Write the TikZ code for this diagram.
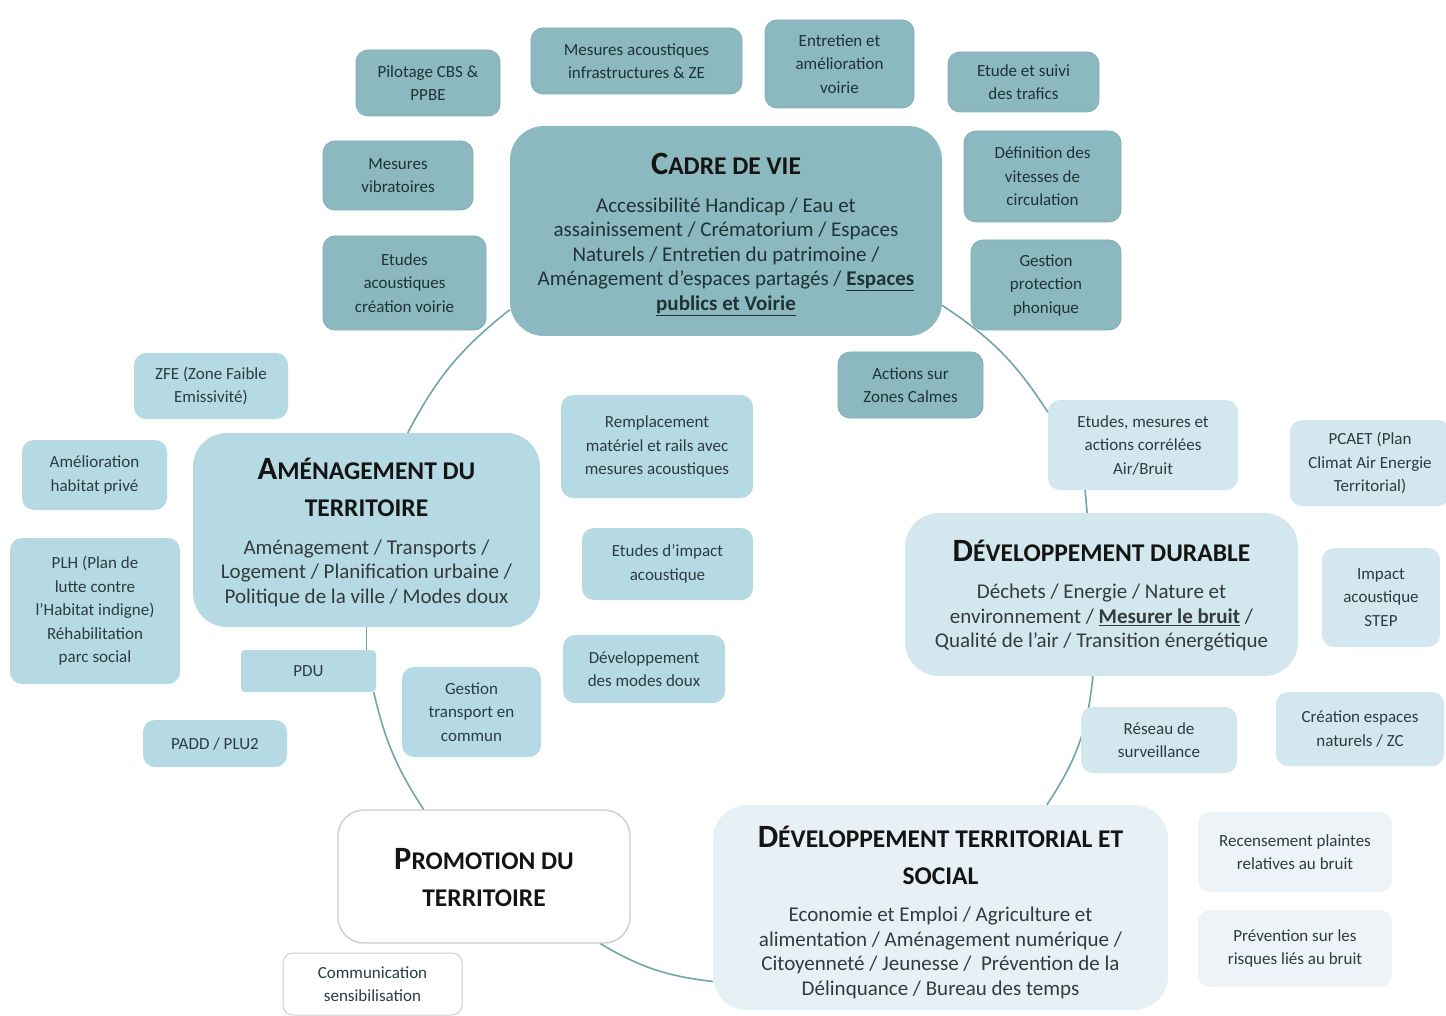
\documentclass[tikz,border=0pt]{standalone}
\usepackage{fontspec}
\setmainfont{Carlito}
\usetikzlibrary{calc}
\definecolor{dk}{HTML}{8CB9BF}
\definecolor{dkline}{HTML}{80AEB4}
\definecolor{lb}{HTML}{B5DAE3}
\definecolor{ddc}{HTML}{D3E8EE}
\definecolor{dtc}{HTML}{E7F0F4}
\definecolor{dts}{HTML}{EDF3F6}
\definecolor{promoline}{HTML}{C9CFD0}
\definecolor{conn}{HTML}{6FA6A9}
\definecolor{dktext}{HTML}{1E3336}
\definecolor{lbtext}{HTML}{2C3C40}
\definecolor{bodytext}{HTML}{333B3D}
\newcommand\fakesc[2]{{\fontsize{32.5}{37}\selectfont #1}#2}
\tikzset{
  basebox/.style={align=center, inner sep=0pt, font=\fontsize{17}{23.5}\selectfont},
  darkbox/.style={basebox, fill=dk, draw=dkline, line width=0.8pt, rounded corners=12pt, text=dktext},
  lightbox/.style={basebox, fill=lb, rounded corners=12pt, text=lbtext},
  ddbox/.style={basebox, fill=ddc, rounded corners=12pt, text=lbtext},
  dtbox/.style={basebox, fill=dts, rounded corners=12pt, text=lbtext},
  whitebox/.style={basebox, fill=white, draw=promoline, line width=1pt, rounded corners=10pt, text=lbtext},
  mainbox/.style={inner sep=0pt, rounded corners=34pt},
  titletext/.style={align=center, inner sep=0pt, text=black!92, font=\fontsize{25.5}{37}\selectfont\bfseries},
  bodytxt/.style={align=center, inner sep=0pt, text=bodytext, font=\fontsize{21}{24.5}\selectfont},
  link/.style={draw=conn, line width=1.6pt},
}
\begin{document}
\begin{tikzpicture}[x=1pt, y=-1pt]
\useasboundingbox (0,0) rectangle (1446,1016);
\fill[white] (0,0) rectangle (1446,1016);

% main boxes (shapes only, for anchors)
\node[mainbox, fill=dk, minimum width=432pt, minimum height=210pt] (cadre) at (726,231) {};
\node[mainbox, fill=lb, minimum width=347pt, minimum height=194pt] (amen) at (366.5,530) {};
\node[mainbox, fill=ddc, minimum width=393pt, minimum height=163pt] (dd) at (1101.5,594.5) {};
\node[mainbox, fill=dtc, minimum width=455pt, minimum height=205pt] (dt) at (940.5,907.5) {};
\node[mainbox, fill=white, draw=promoline, line width=1.4pt, rounded corners=26pt, minimum width=292pt, minimum height=133pt] (promo) at (484,876.5) {};

% satellite boxes
\node[darkbox, minimum width=144pt, minimum height=66pt] (pilot) at (428,83) {Pilotage CBS \&\\PPBE};
\node[darkbox, minimum width=211pt, minimum height=66pt] (mesac) at (636.5,61) {Mesures acoustiques\\infrastructures \& ZE};
\node[darkbox, minimum width=149pt, minimum height=88pt] (entr) at (839.5,64) {Entretien et\\amélioration\\voirie};
\node[darkbox, minimum width=151pt, minimum height=60pt] (trafic) at (1023.5,82) {Etude et suivi\\des trafics};
\node[darkbox, minimum width=150pt, minimum height=69pt] (vibr) at (398,175.5) {Mesures\\vibratoires};
\node[darkbox, minimum width=157pt, minimum height=91pt] (vitesse) at (1042.5,176.5) {Définition des\\vitesses de\\circulation};
\node[darkbox, minimum width=163pt, minimum height=94pt] (etvoirie) at (404.5,283) {Etudes\\acoustiques\\création voirie};
\node[darkbox, minimum width=150pt, minimum height=90pt] (phon) at (1046,285) {Gestion\\protection\\phonique};
\node[darkbox, minimum width=145pt, minimum height=66pt] (calmes) at (910.5,385) {Actions sur\\Zones Calmes};

\node[lightbox, minimum width=154pt, minimum height=66pt] (zfe) at (211,386) {ZFE (Zone Faible\\Emissivité)};
\node[lightbox, minimum width=145pt, minimum height=70pt] (habitat) at (94.5,475) {Amélioration\\habitat privé};
\node[lightbox, minimum width=170pt, minimum height=146pt] (plh) at (95,611) {PLH (Plan de\\lutte contre\\l'Habitat indigne)\\Réhabilitation\\parc social};
\node[lightbox, rounded corners=4pt, minimum width=135pt, minimum height=42pt] (pdu) at (308.5,671) {PDU};
\node[lightbox, minimum width=144pt, minimum height=47pt] (padd) at (215,743.5) {PADD / PLU2};
\node[lightbox, minimum width=139pt, minimum height=90pt] (transp) at (471.5,712) {Gestion\\transport en\\commun};
\node[lightbox, minimum width=192pt, minimum height=103pt] (rails) at (657,446.5) {Remplacement\\matériel et rails avec\\mesures acoustiques};
\node[lightbox, minimum width=171pt, minimum height=72pt] (impact) at (667.5,564) {Etudes d'impact\\acoustique};
\node[lightbox, minimum width=162pt, minimum height=68pt] (doux) at (644,669) {Développement\\des modes doux};

\node[ddbox, minimum width=190pt, minimum height=90pt] (eab) at (1143,445) {Etudes, mesures et\\actions corrélées\\Air/Bruit};
\node[ddbox, minimum width=160pt, minimum height=86pt] (pcaet) at (1370,463) {PCAET (Plan\\Climat Air Energie\\Territorial)};
\node[ddbox, minimum width=118pt, minimum height=99pt] (step) at (1381,597.5) {Impact\\acoustique\\STEP};
\node[ddbox, minimum width=168pt, minimum height=74pt] (zc) at (1360,729) {Création espaces\\naturels / ZC};

\node[dtbox, minimum width=194pt, minimum height=80pt] (plaintes) at (1295,852) {Recensement plaintes\\relatives au bruit};
\node[dtbox, minimum width=194pt, minimum height=77pt] (risques) at (1295,948.5) {Prévention sur les\\risques liés au bruit};

\node[whitebox, minimum width=179pt, minimum height=62pt] (comm) at (372.5,984) {Communication\\sensibilisation};

% connectors
\draw[link] (cadre.200) to[bend right=12] (amen.67);
\draw[link] (cadre.341) to[bend left=12] (eab.161);
\draw[link] (eab.218) -- (dd.100);
\draw[link] (dd.264) to[bend left=14] (dt.44);
\draw[link] (amen.south) -- (amen.south |- pdu.north);
\draw[link] (pdu.342) to[bend right=10] (promo.132);
\draw[link] (promo.330) to[bend right=12] (dt.198);

\node[ddbox, minimum width=156pt, minimum height=66pt] (reseau) at (1159,740) {Réseau de\\surveillance};

% main box texts
\node[titletext] (cadreT) at (726,164) {\fakesc{C}{ADRE DE VIE}};
\node[bodytxt, text=dktext] (cadreB) at (726,256.5) {Accessibilité Handicap / Eau et\\assainissement / Crématorium / Espaces\\Naturels / Entretien du patrimoine /\\Aménagement d'espaces partagés / \underline{\textbf{Espaces}}\\\underline{\textbf{publics et Voirie}}};

\node[titletext] (amenT) at (366.5,487) {\fakesc{A}{MÉNAGEMENT DU}\\TERRITOIRE};
\node[bodytxt] (amenB) at (366.5,573) {Aménagement / Transports /\\Logement / Planification urbaine /\\Politique de la ville / Modes doux};

\node[titletext] (ddT) at (1101.5,551) {\fakesc{D}{ÉVELOPPEMENT DURABLE}};
\node[bodytxt] (ddB) at (1101.5,618) {Déchets / Energie / Nature et\\environnement / \underline{\textbf{Mesurer le bruit}} /\\Qualité de l'air / Transition énergétique};

\node[titletext] (dtT) at (940.5,855.5) {\fakesc{D}{ÉVELOPPEMENT TERRITORIAL ET}\\SOCIAL};
\node[bodytxt] (dtB) at (940.5,953) {Economie et Emploi / Agriculture et\\alimentation / Aménagement numérique /\\Citoyenneté / Jeunesse /\ \ Prévention de la\\Délinquance / Bureau des temps};

\node[titletext] (promoT) at (484,878) {\fakesc{P}{ROMOTION DU}\\TERRITOIRE};
\end{tikzpicture}
\end{document}
